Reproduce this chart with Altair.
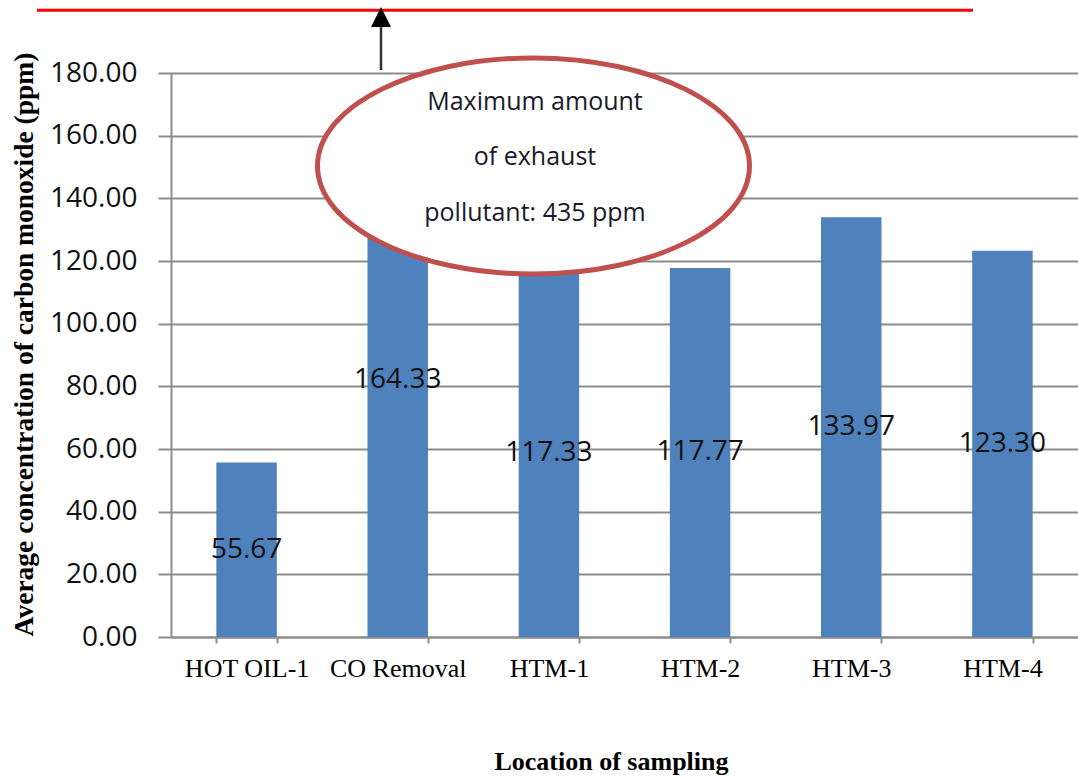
import altair as alt
import pandas as pd

# Sampling locations and average CO concentration (ppm)
locations = ["HOT OIL-1", "CO Removal", "HTM-1", "HTM-2", "HTM-3", "HTM-4"]
co_ppm = [55.67, 164.33, 117.33, 117.77, 133.97, 123.30]

# Y-axis ticks
y_ticks = [0, 20, 40, 60, 80, 100, 120, 140, 160, 180]

# Exhaust limit marker (drawn above the axis top as a scale break for 435 ppm)
limit_marker_level = [200]
limit_text = "Maximum amount\nof exhaust\npollutant: 435 ppm"

GRID = "#8C8C8C"
BAR = "#4F81BD"
SERIF = "Liberation Serif"
SANS = "Open Sans"

df = pd.DataFrame({"location": locations, "ppm": co_ppm})
one = pd.DataFrame({"k": [0]})

x_enc = alt.X(
    "location:N",
    sort=None,
    scale=alt.Scale(paddingInner=0.6, paddingOuter=0.3),
    axis=alt.Axis(
        labelAngle=0, labelFont=SERIF, labelFontSize=26, labelColor="black",
        tickBand="extent", tickSize=6, tickColor=GRID, tickWidth=2,
        domainColor=GRID, domainWidth=2, labelPadding=12, grid=False,
        title="Location of sampling", titleFont=SERIF, titleFontSize=26,
        titleFontWeight="bold", titleColor="black", titleX=440, titleY=132,
        titleBaseline="alphabetic",
    ),
)

y_scale = alt.Scale(domain=[0, 180], nice=False)

bars = alt.Chart(df).mark_bar(color=BAR).encode(
    x=x_enc,
    y=alt.Y(
        "ppm:Q",
        scale=y_scale,
        axis=alt.Axis(
            values=y_ticks, format=".2f", labelFont=SANS, labelFontSize=28,
            labelColor="#111111", tickSize=13, tickColor=GRID, tickWidth=2,
            domainColor=GRID, domainWidth=2, gridColor=GRID, gridWidth=2,
            labelPadding=21, title="Average concentration of carbon monoxide (ppm)",
            titleFont=SERIF, titleFontSize=27.5, titleFontWeight="bold",
            titleColor="black", titleX=-139, titleY=271, titleBaseline="alphabetic",
        ),
    ),
)

labels = alt.Chart(df).transform_calculate(
    mid="datum.ppm / 2"
).mark_text(font=SANS, fontSize=28, color="#111111", baseline="middle").encode(
    x=alt.X("location:N", sort=None),
    y=alt.Y("mid:Q", scale=y_scale),
    text=alt.Text("ppm:Q", format=".2f"),
)

limit_line = alt.Chart(pd.DataFrame({"level": limit_marker_level})).mark_rule(
    color="#FF0000", strokeWidth=3
).encode(
    y=alt.Y("level:Q", scale=y_scale),
    x=alt.value(-134),
    x2=alt.value(802),
)

arrow_shaft = alt.Chart(one).mark_rule(color="#333333", strokeWidth=2.5).encode(
    x=alt.value(210), y=alt.value(-46), y2=alt.value(-3)
)

arrow_head = alt.Chart(one).mark_point(
    shape="M 0 -1 L 1 1 L -1 1 Z", size=400, filled=True, fill="black",
    stroke="black", strokeWidth=0, opacity=1,
).encode(x=alt.value(210), y=alt.value(-56))

callout = alt.Chart(one).mark_point(
    shape="M -1 0 A 1 0.5 0 1 1 1 0 A 1 0.5 0 1 1 -1 0 Z",
    size=432 * 432, fill="white", fillOpacity=1, stroke="#C0504D",
    strokeWidth=5, opacity=1,
).encode(x=alt.value(362.5), y=alt.value(93))

callout_text = alt.Chart(one).mark_text(
    font=SANS, fontSize=25, color="#1A1A2A", align="center", baseline="middle",
    lineBreak="\n", lineHeight=55.7,
).encode(x=alt.value(364), y=alt.value(28.7), text=alt.value(limit_text))

chart = alt.layer(
    bars, labels, limit_line, arrow_shaft, arrow_head, callout, callout_text
).properties(
    width=907,
    height=564,
    autosize=alt.AutoSizeParams(type="none"),
    padding={"left": 171, "top": 73, "right": 0, "bottom": 139},
    background="white",
).configure_view(stroke=None)

chart.save("out.html", embed_options={"renderer": "svg", "actions": False})
